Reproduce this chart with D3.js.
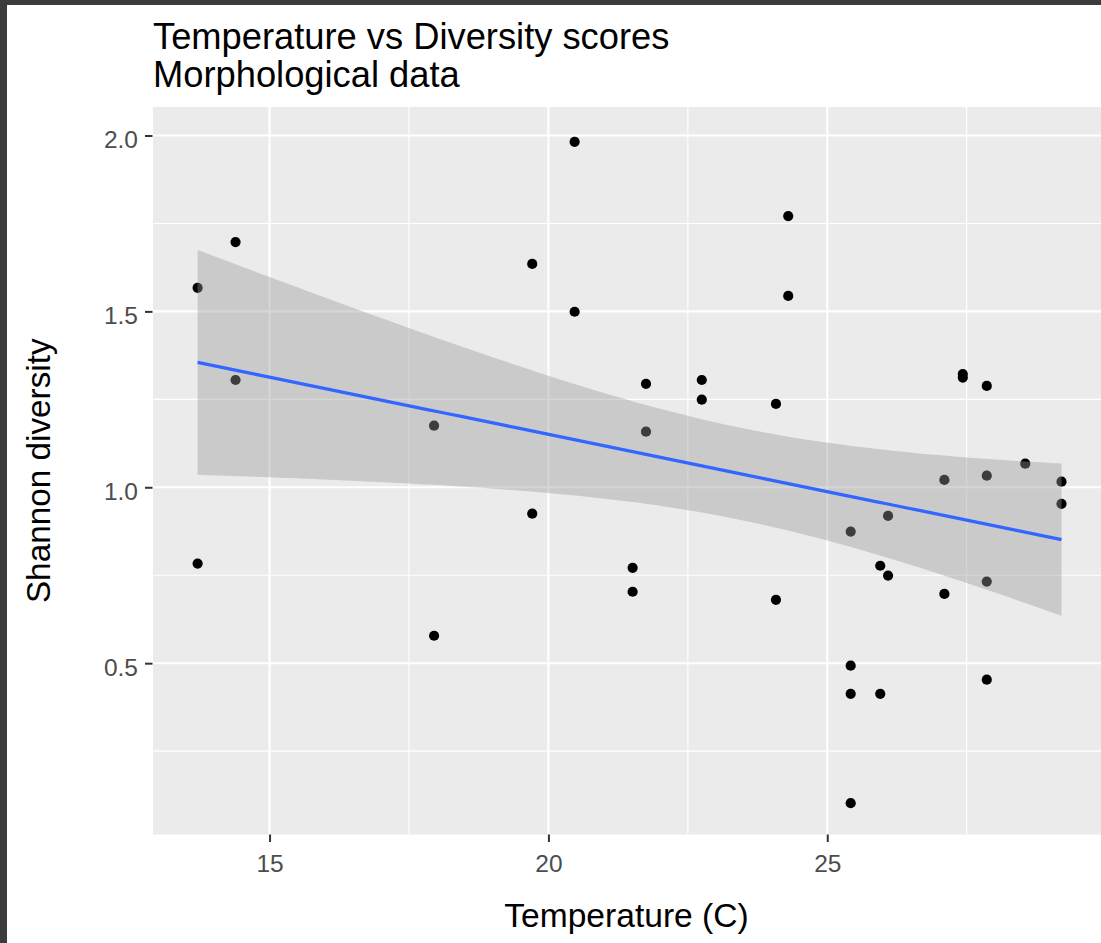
<!DOCTYPE html>
<html>
<head>
<meta charset="utf-8">
<script src="https://cdn.jsdelivr.net/npm/d3@7"></script>
<style>
  html, body { margin: 0; padding: 0; background: #ffffff; }
  svg { display: block; }
  text { font-family: "Liberation Sans", Arial, sans-serif; }
</style>
</head>
<body>
<svg id="chart" width="1101" height="943"></svg>
<script>
// ---- Data ----
const temperature = [
  13.71, 13.71, 14.39, 14.39, 17.95, 17.95, 19.71, 19.71, 20.47, 20.47,
  21.75, 21.75, 21.51, 21.51, 22.75, 22.75, 24.30, 24.30, 24.08, 24.08,
  25.42, 25.42, 25.42, 25.42, 25.95, 25.95, 26.09, 26.09, 27.10, 27.10,
  27.43, 27.43, 27.86, 27.86, 27.86, 27.86, 28.55, 29.20, 29.20
];
const shannon = [
  1.567, 0.783, 1.697, 1.305, 1.175, 0.578, 1.635, 0.925, 1.982, 1.499,
  1.294, 1.158, 0.771, 0.703, 1.305, 1.249, 1.771, 1.544, 1.237, 0.680,
  0.874, 0.493, 0.413, 0.102, 0.777, 0.413, 0.919, 0.749, 1.021, 0.697,
  1.322, 1.312, 1.288, 1.033, 0.732, 0.453, 1.067, 1.016, 0.953
];
const xTicks = [15, 20, 25];
const xMinor = [17.5, 22.5, 27.5];
const yTicks = [0.5, 1.0, 1.5, 2.0];
const yMinor = [0.25, 0.75, 1.25, 1.75];
const titleLines = ["Temperature vs Diversity scores", "Morphological data"];
const xLabel = "Temperature (C)";
const yLabel = "Shannon diversity";

// ---- Layout ----
const W = 1101, H = 943;
const panel = { left: 153, top: 107, right: 1105, bottom: 834.5 };

const svg = d3.select("#chart");

// dark frame of the screenshot
svg.append("rect").attr("x", 0).attr("y", 0).attr("width", W).attr("height", H).attr("fill", "#ffffff");
svg.append("rect").attr("x", 0).attr("y", 0).attr("width", W).attr("height", 5).attr("fill", "#3c3c3c");
svg.append("rect").attr("x", 0).attr("y", 0).attr("width", 7).attr("height", H).attr("fill", "#3c3c3c");

const x = d3.scaleLinear().domain([12.91, 29.98]).range([panel.left, panel.right]);
const y = d3.scaleLinear().domain([0.013, 2.081]).range([panel.bottom, panel.top]);

const g = svg.append("g");

g.append("rect")
  .attr("x", panel.left).attr("y", panel.top)
  .attr("width", panel.right - panel.left).attr("height", panel.bottom - panel.top)
  .attr("fill", "#ebebeb");

// minor grid
g.selectAll(".ymin").data(yMinor).enter().append("line")
  .attr("x1", panel.left).attr("x2", panel.right)
  .attr("y1", d => y(d)).attr("y2", d => y(d))
  .attr("stroke", "#ffffff").attr("stroke-width", 1.1);
g.selectAll(".xmin").data(xMinor).enter().append("line")
  .attr("y1", panel.top).attr("y2", panel.bottom)
  .attr("x1", d => x(d)).attr("x2", d => x(d))
  .attr("stroke", "#ffffff").attr("stroke-width", 1.1);
// major grid
g.selectAll(".ymaj").data(yTicks).enter().append("line")
  .attr("x1", panel.left).attr("x2", panel.right)
  .attr("y1", d => y(d)).attr("y2", d => y(d))
  .attr("stroke", "#ffffff").attr("stroke-width", 2.1);
g.selectAll(".xmaj").data(xTicks).enter().append("line")
  .attr("y1", panel.top).attr("y2", panel.bottom)
  .attr("x1", d => x(d)).attr("x2", d => x(d))
  .attr("stroke", "#ffffff").attr("stroke-width", 2.1);

// points
const pts = temperature.map((t, i) => ({ t, s: shannon[i] }));
g.selectAll(".pt").data(pts).enter().append("circle")
  .attr("cx", d => x(d.t)).attr("cy", d => y(d.s)).attr("r", 5.1)
  .attr("fill", "#000000");

// linear fit with 95% confidence band (geom_smooth(method = "lm"))
const n = pts.length;
const mx = d3.mean(temperature), my = d3.mean(shannon);
let sxx = 0, sxy = 0;
pts.forEach(p => { sxx += (p.t - mx) ** 2; sxy += (p.t - mx) * (p.s - my); });
const slope = sxy / sxx, intercept = my - slope * mx;
let sse = 0;
pts.forEach(p => { sse += (p.s - (intercept + slope * p.t)) ** 2; });
const sigma = Math.sqrt(sse / (n - 2));
const tq = 2.026; // qt(0.975, 37)
const [tmin, tmax] = d3.extent(temperature);
const fit = d3.range(80).map(i => {
  const tv = tmin + (tmax - tmin) * i / 79;
  const yh = intercept + slope * tv;
  const se = sigma * Math.sqrt(1 / n + (tv - mx) ** 2 / sxx);
  return { t: tv, yh, lo: yh - tq * se, hi: yh + tq * se };
});

g.append("path").datum(fit)
  .attr("d", d3.area().x(d => x(d.t)).y0(d => y(d.lo)).y1(d => y(d.hi)))
  .attr("fill", "#999999").attr("fill-opacity", 0.4);
g.append("path").datum(fit)
  .attr("d", d3.line().x(d => x(d.t)).y(d => y(d.yh)))
  .attr("fill", "none").attr("stroke", "#3366ff").attr("stroke-width", 3.3);

// axes (ggplot style: tick marks + grey labels)
const yAxis = d3.axisLeft(y).tickValues(yTicks).tickFormat(d3.format(".1f")).tickSize(7.5).tickPadding(7);
const yg = svg.append("g").attr("transform", `translate(${panel.left - 0.5},0)`).call(yAxis);
yg.select(".domain").remove();
yg.selectAll(".tick line").attr("stroke", "#333333").attr("stroke-width", 2);
yg.selectAll(".tick text").attr("fill", "#4d4d4d").style("font-size", "24.5px")
  .attr("dy", null).attr("y", 12).attr("x", -14.5);

const xAxis = d3.axisBottom(x).tickValues(xTicks).tickFormat(d3.format("d")).tickSize(7.5);
const xg = svg.append("g").attr("transform", `translate(0,${panel.bottom})`).call(xAxis);
xg.select(".domain").remove();
xg.selectAll(".tick line").attr("stroke", "#333333").attr("stroke-width", 2);
xg.selectAll(".tick text").attr("fill", "#4d4d4d").style("font-size", "24.5px")
  .attr("dy", null).attr("y", 37);

// titles
svg.selectAll(".title").data(titleLines).enter().append("text")
  .attr("x", panel.left).attr("y", (d, i) => 48.5 + i * 38.8)
  .attr("fill", "#000000").style("font-size", "36.3px").text(d => d);

svg.append("text")
  .attr("x", (panel.left + panel.right) / 2 - 2.5).attr("y", 926.5)
  .attr("text-anchor", "middle").attr("fill", "#000000").style("font-size", "33.6px")
  .text(xLabel);

svg.append("text")
  .attr("transform", `translate(49.5,${(panel.top + panel.bottom) / 2}) rotate(-90)`)
  .attr("text-anchor", "middle").attr("fill", "#000000").style("font-size", "33.3px")
  .text(yLabel);
</script>
</body>
</html>
